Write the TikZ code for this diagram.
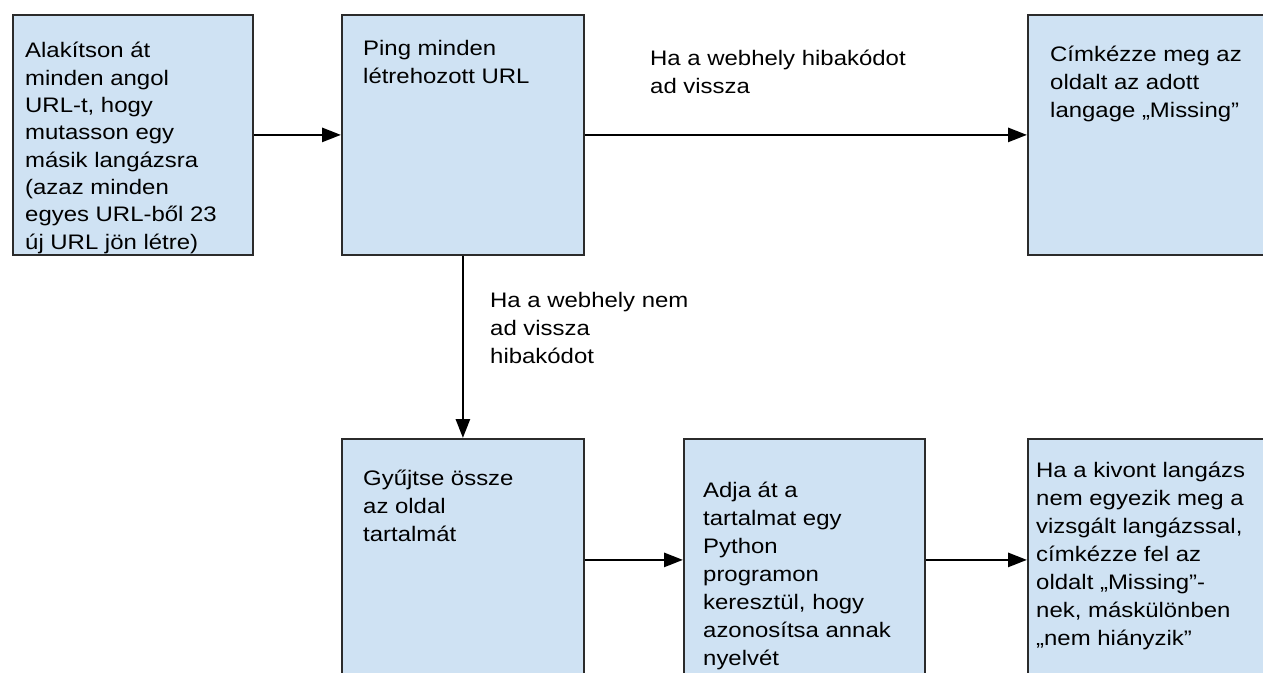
\documentclass[tikz,border=0pt]{standalone}
\usepackage{fontspec}
\setmainfont{Liberation Sans}[FakeStretch=1.14]
\usetikzlibrary{arrows.meta}
\definecolor{boxfill}{HTML}{CFE2F3}
\definecolor{boxline}{HTML}{2B2B2B}
\begin{document}
\begin{tikzpicture}[x=1pt,y=-1pt,
  stepbox/.style={draw=boxline, line width=1.8pt, fill=boxfill, rectangle, inner sep=0pt, anchor=north west},
  txt/.style={anchor=base west, align=left, inner sep=0pt, font=\fontsize{21}{28}\selectfont},
  conn/.style={line width=2.8pt, -{Triangle[length=19pt,width=14pt]}}]
\clip (0,0) rectangle (1263,672);
\fill[white] (0,0) rectangle (1263,672);
% boxes
\node[stepbox, minimum width=240pt, minimum height=240pt] (b1) at (12,14) {};
\node[stepbox, minimum width=242pt, minimum height=240pt] (b2) at (341,14) {};
\node[stepbox, minimum width=253pt, minimum height=240pt] (b3) at (1027,14) {};
\node[stepbox, minimum width=242pt, minimum height=242pt] (b4) at (341,438) {};
\node[stepbox, minimum width=241pt, minimum height=242pt] (b5) at (683,438) {};
\node[stepbox, minimum width=253pt, minimum height=242pt] (b6) at (1027,438) {};
% box texts (anchored at the baseline of their last line)
\node[txt, font=\fontsize{21}{27.3}\selectfont] (t1) at (25,249) {Alakítson át\\minden angol\\URL-t, hogy\\mutasson egy\\másik langázsra\\(azaz minden\\egyes URL-ből 23\\új URL jön létre)};
\node[txt] (t2) at (363,83) {Ping minden\\létrehozott URL};
\node[txt] (t3) at (1050,117) {Címkézze meg az\\oldalt az adott\\langage „Missing”};
\node[txt] (t4) at (363,541) {Gyűjtse össze\\az oldal\\tartalmát};
\node[txt] (t5) at (703,665) {Adja át a\\tartalmat egy\\Python\\programon\\keresztül, hogy\\azonosítsa annak\\nyelvét};
\node[txt] (t6) at (1036,645) {Ha a kivont langázs\\nem egyezik meg a\\vizsgált langázssal,\\címkézze fel az\\oldalt „Missing”-\\nek, máskülönben\\„nem hiányzik”};
% connector labels
\node[txt] (l1) at (650,93) {Ha a webhely hibakódot\\ad vissza};
\node[txt] (l2) at (490,363) {Ha a webhely nem\\ad vissza\\hibakódot};
% connectors
\draw[conn] (b1.east) -- (b2.west);
\draw[conn] (b2.east) -- (b3.west);
\draw[conn] (b2.south) -- (b4.north);
\draw[conn] (b4.east) -- (b5.west);
\draw[conn] (b5.east) -- (b6.west);
\end{tikzpicture}
\end{document}
